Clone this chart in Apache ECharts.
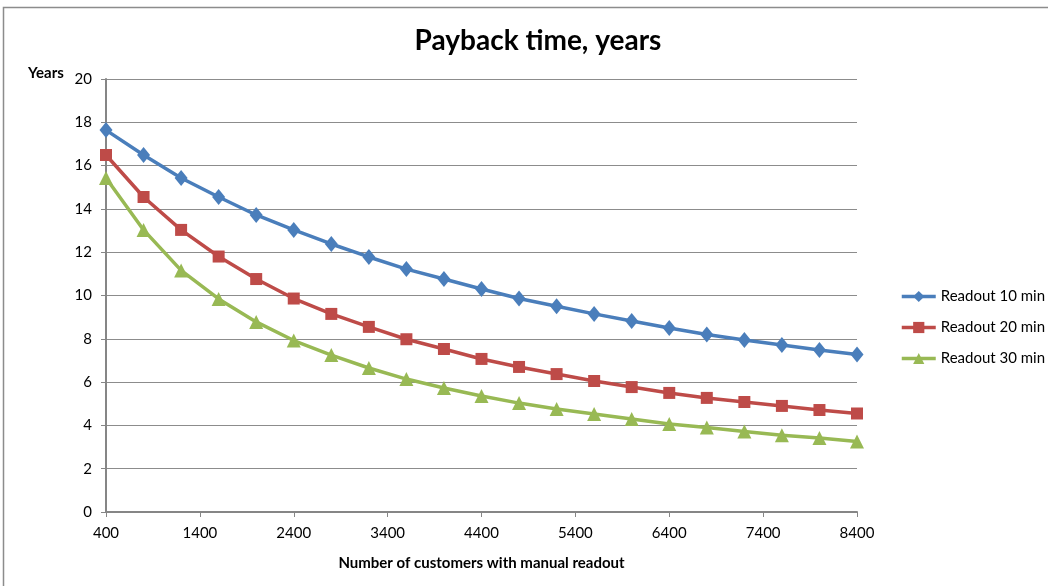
<!DOCTYPE html>
<html>
<head>
<meta charset="utf-8">
<script src="https://cdn.jsdelivr.net/npm/echarts@6/dist/echarts.min.js"></script>
<style>
  html, body { margin: 0; padding: 0; background: #fff; }
  #chart { width: 1048px; height: 586px; }
</style>
</head>
<body>
<div id="chart"></div>
<script>
// Number of customers with manual readout
const customers = [400, 800, 1200, 1600, 2000, 2400, 2800, 3200, 3600, 4000, 4400,
                   4800, 5200, 5600, 6000, 6400, 6800, 7200, 7600, 8000, 8400];

// Payback time in years for each readout duration
const readout10 = [17.64, 16.49, 15.43, 14.55, 13.72, 13.03, 12.38, 11.78, 11.22, 10.76, 10.30,
                   9.86, 9.50, 9.15, 8.82, 8.50, 8.20, 7.94, 7.71, 7.48, 7.28];
const readout20 = [16.49, 14.55, 13.03, 11.80, 10.76, 9.86, 9.15, 8.55, 7.98, 7.53, 7.07,
                   6.70, 6.37, 6.05, 5.77, 5.50, 5.27, 5.08, 4.90, 4.71, 4.55];
const readout30 = [15.43, 13.03, 11.16, 9.84, 8.78, 7.92, 7.25, 6.65, 6.14, 5.73, 5.36,
                   5.03, 4.76, 4.53, 4.30, 4.06, 3.90, 3.72, 3.54, 3.42, 3.26];

const seriesNames = ['Readout 10 min', 'Readout 20 min', 'Readout 30 min'];
const yTicks = [0, 2, 4, 6, 8, 10, 12, 14, 16, 18, 20];

const FONT = 'Lato, "Open Sans", sans-serif';
const colors = ['#4A7EBB', '#BE4B48', '#98B954'];
const symbols = ['diamond', 'rect', 'triangle'];
const symbolSizes = [[13, 16], 12, 14];

const pairs = (vals) => customers.map((c, i) => [c, vals[i]]);
const allValues = [readout10, readout20, readout30];

const chart = echarts.init(document.getElementById('chart'), null, { renderer: 'canvas' });

chart.setOption({
  animation: false,
  backgroundColor: '#ffffff',
  title: {
    text: 'Payback time, years',
    left: 533,
    top: 22,
    textAlign: 'center',
    textStyle: { fontFamily: FONT, fontWeight: 'bold', fontSize: 28, color: '#000' }
  },
  legend: {
    orient: 'vertical',
    left: 895,
    top: 284,
    itemWidth: 34,
    itemHeight: 14,
    itemGap: 16,
    lineStyle: { width: 3.5 },
    textStyle: { fontFamily: FONT, fontSize: 15, color: '#000' },
    data: seriesNames
  },
  grid: { left: 106, right: 191, top: 79, bottom: 74, containLabel: false },
  xAxis: {
    type: 'value',
    min: 400,
    max: 8400,
    interval: 1000,
    name: 'Number of customers with manual readout',
    nameLocation: 'middle',
    nameGap: 44,
    nameTextStyle: { fontFamily: FONT, fontWeight: 'bold', fontSize: 15, color: '#000' },
    axisLine: { show: true, lineStyle: { color: '#868686', width: 2 } },
    axisTick: { show: true, length: 5, inside: false, lineStyle: { color: '#868686', width: 1 } },
    axisLabel: {
      fontFamily: FONT, fontSize: 15, color: '#000', margin: 14,
      showMinLabel: true, showMaxLabel: true,
      formatter: (v) => String(v)
    },
    splitLine: { show: false }
  },
  yAxis: {
    type: 'value',
    min: yTicks[0],
    max: yTicks[yTicks.length - 1],
    interval: 2,
    axisLine: { show: true, lineStyle: { color: '#868686', width: 2 } },
    axisTick: { show: true, length: 5, lineStyle: { color: '#868686', width: 1 } },
    axisLabel: { fontFamily: FONT, fontSize: 15, color: '#000', margin: 14 },
    splitLine: { show: true, lineStyle: { color: '#8C8C8C', width: 1.2 } }
  },
  graphic: [
    {
      type: 'rect',
      shape: { x: 3.5, y: 7.5, width: 1200, height: 700 },
      style: { fill: 'none', stroke: '#8C8C8C', lineWidth: 1.5 },
      silent: true,
      z: -1
    },
    {
      type: 'text',
      left: 28,
      top: 66,
      style: { text: 'Years', fontFamily: FONT, fontWeight: 'bold', fontSize: 15, fill: '#000' }
    }
  ],
  series: allValues.map((vals, i) => ({
    name: seriesNames[i],
    type: 'line',
    data: pairs(vals),
    symbol: symbols[i],
    symbolSize: symbolSizes[i],
    showAllSymbol: true,
    lineStyle: { color: colors[i], width: 3.5 },
    itemStyle: { color: colors[i] },
    emphasis: { disabled: true },
    z: 3 - i
  }))
});
</script>
</body>
</html>
